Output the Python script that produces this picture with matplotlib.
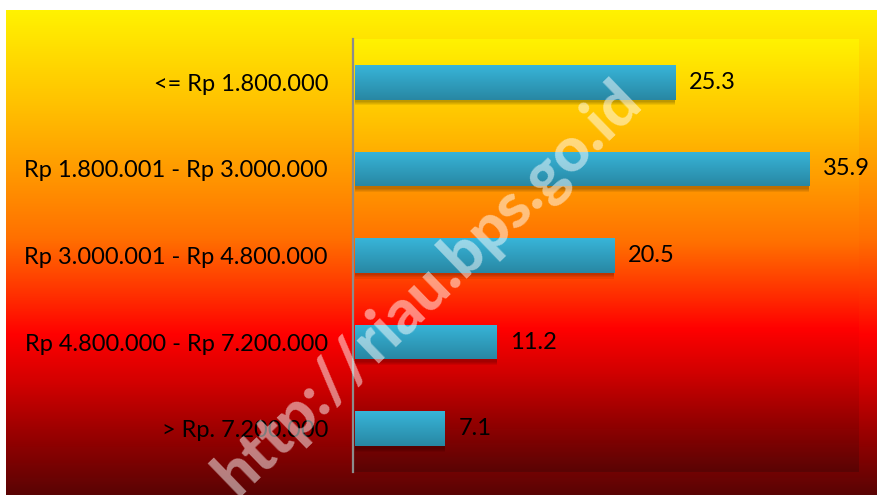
import numpy as np
import matplotlib.pyplot as plt
from matplotlib.colors import LinearSegmentedColormap

# data
kategori = ['<= Rp 1.800.000',
            'Rp 1.800.001 - Rp 3.000.000',
            'Rp 3.000.001 - Rp 4.800.000',
            'Rp 4.800.000 - Rp 7.200.000',
            '> Rp. 7.200.000']
persen = [25.3, 35.9, 20.5, 11.2, 7.1]

plt.rcParams['font.family'] = ['Lato', 'DejaVu Sans']

W, H = 877, 495
fig = plt.figure(figsize=(W / 100, H / 100), dpi=100)
fig.patch.set_facecolor('white')

# gradien latar (kuning -> oranye -> merah -> merah tua)
latar = LinearSegmentedColormap.from_list('latar', [
    (0.00, '#FFF200'), (0.19, '#FFC200'), (0.33, '#FF9A00'),
    (0.47, '#FF7000'), (0.58, '#FF3400'), (0.67, '#FF0000'),
    (0.77, '#D20000'), (0.87, '#9C0000'), (1.00, '#5A0404')])
grad = np.linspace(0, 1, 256).reshape(-1, 1)

bg = fig.add_axes([6 / W, 0, (W - 6) / W, (H - 10) / H])
bg.imshow(grad, aspect='auto', cmap=latar, extent=[0, 1, 0, 1])
bg.set_axis_off()

# area plot
x0, x1, y0, y1 = 353, 859, 39, 472
ax = fig.add_axes([x0 / W, 1 - y1 / H, (x1 - x0) / W, (y1 - y0) / H])
ax.set_zorder(2)
ax.imshow(grad, aspect='auto', cmap=latar, extent=[0, 40, 4.5, -0.5],
          zorder=0)

y = np.arange(len(kategori))
ax.set_xlim(0, 40)
ax.set_ylim(len(kategori) - 0.5, -0.5)

# bayangan batang
for k in range(4):
    ax.barh(y + 0.03 + 0.012 * k, persen, height=0.4, left=0.15,
            color='black', alpha=0.07, zorder=1, linewidth=0)

biru = LinearSegmentedColormap.from_list('biru', ['#38B5D9', '#2887A3'])
bars = ax.barh(y, persen, height=0.4, left=0.15, color='#33A8CA', zorder=2,
               linewidth=0)
for b in bars:
    bx, by = b.get_x(), b.get_y()
    im = ax.imshow(grad, aspect='auto', cmap=biru, zorder=3,
                   extent=[bx, bx + b.get_width(), by + b.get_height(), by])
    im.set_clip_path(b)

for yi, v in zip(y, persen):
    ax.annotate(f'{v}', (v + 0.15, yi), xytext=(10, 0),
                textcoords='offset points', va='center', ha='left',
                fontsize=17, color='black', zorder=4)

ax.set_yticks(y)
ax.set_yticklabels(kategori, fontsize=17)
ax.tick_params(axis='y', length=0, pad=18)
ax.set_xticks([])
for s in ['top', 'right', 'bottom']:
    ax.spines[s].set_visible(False)
ax.spines['left'].set_color('#8C8C8C')
ax.spines['left'].set_linewidth(1.6)

# watermark
fig.text(0.488, 0.418, 'http://riau.bps.go.id', rotation=44,
         ha='center', va='center', fontsize=45, fontweight='black',
         color='white', alpha=0.5, zorder=10)

fig.savefig('out.png', dpi=100)
